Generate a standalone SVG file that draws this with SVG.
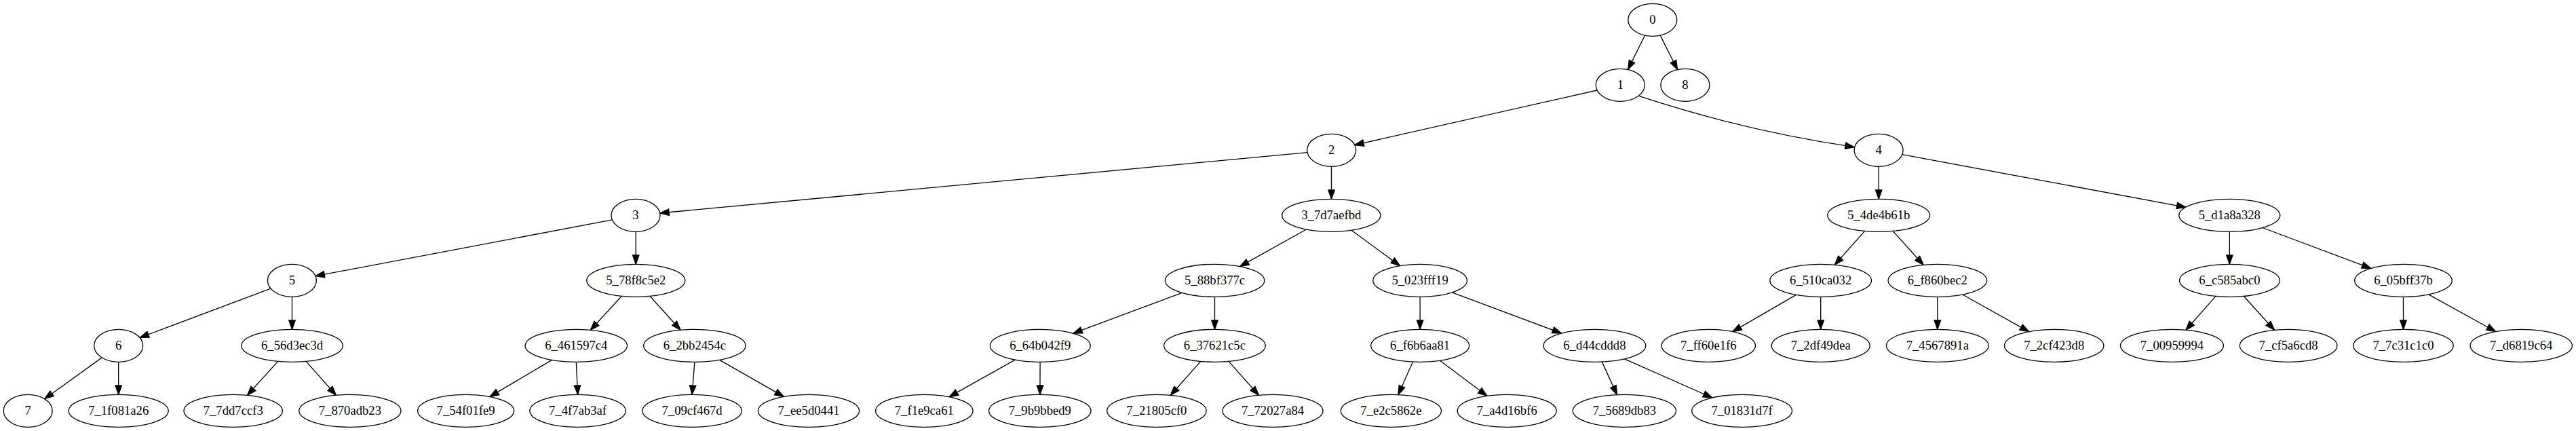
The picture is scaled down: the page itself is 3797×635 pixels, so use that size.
<svg xmlns="http://www.w3.org/2000/svg" width="3797" height="635" viewBox="0 0 3797 635">
<style>
.node ellipse{fill:#fff;stroke:#000;stroke-width:1.33}
.node text{font-family:"Liberation Serif","Times New Roman",serif;font-size:18.67px;text-anchor:middle;fill:#000}
.edges path{fill:none;stroke:#000;stroke-width:1.33;marker-end:url(#arr)}
</style>
<defs>
<marker id="arr" markerUnits="userSpaceOnUse" markerWidth="16" markerHeight="12" viewBox="0 -6 16 12" refX="13.33" refY="0" orient="auto" overflow="visible">
<path d="M0,-4.67 L13.33,0 L0,4.67 Z" fill="#000" stroke="#000" stroke-width="1.33"/>
</marker>
</defs>
<rect width="3797" height="635" fill="#fff"/>
<g class="edges" id="edges">
<path d="M2424.5,52.1 L2399.6,102.5"/>
<path d="M2447.2,52.1 L2472.5,102.5"/>
<path d="M2354.2,133.0 L1996.8,213.6"/>
<path d="M2416.3,141.7 Q2571.6,192.8 2733.3,216.7"/>
<path d="M1927.0,224.6 L972.7,314.0"/>
<path d="M1962.5,245.3 L1962.5,293.3"/>
<path d="M902.4,323.9 L465.0,406.7"/>
<path d="M937.2,341.3 L937.2,389.3"/>
<path d="M399.0,425.1 L206.1,497.5"/>
<path d="M430.5,437.3 L430.5,485.3"/>
<path d="M150.2,526.9 L65.7,587.7"/>
<path d="M174.7,533.3 L174.7,581.3"/>
<path d="M409.7,532.4 L364.5,582.3"/>
<path d="M451.1,532.4 L495.4,582.2"/>
<path d="M1925.4,338.0 L1827.6,392.6"/>
<path d="M1992.1,339.2 L2063.5,391.6"/>
<path d="M916.3,436.3 L870.4,486.3"/>
<path d="M958.0,436.3 L1003.1,486.2"/>
<path d="M813.5,530.4 L721.9,584.5"/>
<path d="M849.3,533.3 L851.6,581.3"/>
<path d="M1023.9,533.3 L1020.1,581.3"/>
<path d="M1060.6,530.3 L1155.4,584.4"/>
<path d="M1742.3,431.3 L1581.8,491.2"/>
<path d="M1790.5,437.3 L1790.5,485.3"/>
<path d="M1496.3,530.1 L1399.0,584.7"/>
<path d="M1533.1,533.3 L1533.0,581.3"/>
<path d="M1769.9,532.4 L1725.4,582.3"/>
<path d="M1811.0,532.4 L1855.4,582.2"/>
<path d="M2093.1,437.3 L2093.1,485.3"/>
<path d="M2140.3,430.9 L2301.5,491.0"/>
<path d="M2082.5,533.0 L2061.0,581.5"/>
<path d="M2122.4,531.3 L2191.9,583.3"/>
<path d="M2361.3,533.1 L2383.5,581.6"/>
<path d="M2394.5,528.8 L2523.8,586.0"/>
<path d="M2769.2,245.3 L2769.2,293.3"/>
<path d="M2803.8,227.7 L3221.8,305.3"/>
<path d="M2748.6,340.4 L2704.3,390.2"/>
<path d="M2790.0,340.4 L2835.1,390.3"/>
<path d="M2647.5,434.3 L2553.8,488.7"/>
<path d="M2683.7,437.3 L2683.7,485.3"/>
<path d="M2855.8,437.3 L2855.8,485.3"/>
<path d="M2892.8,434.0 L2990.6,488.6"/>
<path d="M3286.35,341.3 L3286.35,389.3"/>
<path d="M3334.9,335.5 L3494.7,395.4"/>
<path d="M3266.0,436.4 L3221.9,486.2"/>
<path d="M3307.2,436.3 L3352.4,486.3"/>
<path d="M3542.5,437.3 L3542.5,485.3"/>
<path d="M3579.7,433.8 L3678.6,488.5"/>
</g>
<g id="n0" class="node"><ellipse cx="2435.8" cy="29.3" rx="36" ry="24"/><text x="2435.8" y="35.3">0</text></g>
<g id="n1" class="node"><ellipse cx="2388.3" cy="125.3" rx="36" ry="24"/><text x="2388.3" y="131.3">1</text></g>
<g id="n8" class="node"><ellipse cx="2483.9" cy="125.3" rx="36" ry="24"/><text x="2483.9" y="131.3">8</text></g>
<g id="n2" class="node"><ellipse cx="1962.7" cy="221.3" rx="36" ry="24"/><text x="1962.7" y="227.3">2</text></g>
<g id="n4" class="node"><ellipse cx="2769.1" cy="221.3" rx="36" ry="24"/><text x="2769.1" y="227.3">4</text></g>
<g id="n3" class="node"><ellipse cx="937" cy="317.3" rx="36" ry="24"/><text x="937" y="323.3">3</text></g>
<g id="n3_7d7aefbd" class="node"><ellipse cx="1962.3" cy="317.3" rx="72.6" ry="24"/><text x="1962.3" y="323.3">3_7d7aefbd</text></g>
<g id="n5_4de4b61b" class="node"><ellipse cx="2769.2" cy="317.3" rx="75.4" ry="24"/><text x="2769.2" y="323.3">5_4de4b61b</text></g>
<g id="n5_d1a8a328" class="node"><ellipse cx="3286.3" cy="317.3" rx="74.5" ry="24"/><text x="3286.3" y="323.3">5_d1a8a328</text></g>
<g id="n5" class="node"><ellipse cx="430.4" cy="413.3" rx="36" ry="24"/><text x="430.4" y="419.3">5</text></g>
<g id="n5_78f8c5e2" class="node"><ellipse cx="937.3" cy="413.3" rx="72.5" ry="24"/><text x="937.3" y="419.3">5_78f8c5e2</text></g>
<g id="n5_88bf377c" class="node"><ellipse cx="1790.6" cy="413.3" rx="73.2" ry="24"/><text x="1790.6" y="419.3">5_88bf377c</text></g>
<g id="n5_023fff19" class="node"><ellipse cx="2093.1" cy="413.3" rx="69.4" ry="24"/><text x="2093.1" y="419.3">5_023fff19</text></g>
<g id="n6_510ca032" class="node"><ellipse cx="2683.7" cy="413.3" rx="74.8" ry="24"/><text x="2683.7" y="419.3">6_510ca032</text></g>
<g id="n6_f860bec2" class="node"><ellipse cx="2855.8" cy="413.3" rx="72.8" ry="24"/><text x="2855.8" y="419.3">6_f860bec2</text></g>
<g id="n6_c585abc0" class="node"><ellipse cx="3286.4" cy="413.3" rx="73.9" ry="24"/><text x="3286.4" y="419.3">6_c585abc0</text></g>
<g id="n6_05bff37b" class="node"><ellipse cx="3542.5" cy="413.3" rx="71.8" ry="24"/><text x="3542.5" y="419.3">6_05bff37b</text></g>
<g id="n6" class="node"><ellipse cx="174.7" cy="509.3" rx="36" ry="24"/><text x="174.7" y="515.3">6</text></g>
<g id="n6_56d3ec3d" class="node"><ellipse cx="430.6" cy="509.3" rx="74.7" ry="24"/><text x="430.6" y="515.3">6_56d3ec3d</text></g>
<g id="n6_461597c4" class="node"><ellipse cx="849.3" cy="509.3" rx="75.2" ry="24"/><text x="849.3" y="515.3">6_461597c4</text></g>
<g id="n6_2bb2454c" class="node"><ellipse cx="1023.9" cy="509.3" rx="75.2" ry="24"/><text x="1023.9" y="515.3">6_2bb2454c</text></g>
<g id="n6_64b042f9" class="node"><ellipse cx="1533.3" cy="509.3" rx="73.9" ry="24"/><text x="1533.3" y="515.3">6_64b042f9</text></g>
<g id="n6_37621c5c" class="node"><ellipse cx="1790.4" cy="509.3" rx="74.8" ry="24"/><text x="1790.4" y="515.3">6_37621c5c</text></g>
<g id="n6_f6b6aa81" class="node"><ellipse cx="2093.1" cy="509.3" rx="72.5" ry="24"/><text x="2093.1" y="515.3">6_f6b6aa81</text></g>
<g id="n6_d44cddd8" class="node"><ellipse cx="2350.4" cy="509.3" rx="75.4" ry="24"/><text x="2350.4" y="515.3">6_d44cddd8</text></g>
<g id="n7_ff60e1f6" class="node"><ellipse cx="2518.3" cy="509.3" rx="69.2" ry="24"/><text x="2518.3" y="515.3">7_ff60e1f6</text></g>
<g id="n7_2df49dea" class="node"><ellipse cx="2683.7" cy="509.3" rx="72.5" ry="24"/><text x="2683.7" y="515.3">7_2df49dea</text></g>
<g id="n7_4567891a" class="node"><ellipse cx="2855.8" cy="509.3" rx="75.4" ry="24"/><text x="2855.8" y="515.3">7_4567891a</text></g>
<g id="n7_2cf423d8" class="node"><ellipse cx="3027.7" cy="509.3" rx="73.2" ry="24"/><text x="3027.7" y="515.3">7_2cf423d8</text></g>
<g id="n7_00959994" class="node"><ellipse cx="3201.4" cy="509.3" rx="76" ry="24"/><text x="3201.4" y="515.3">7_00959994</text></g>
<g id="n7_cf5a6cd8" class="node"><ellipse cx="3373.1" cy="509.3" rx="71.8" ry="24"/><text x="3373.1" y="515.3">7_cf5a6cd8</text></g>
<g id="n7_7c31c1c0" class="node"><ellipse cx="3542.5" cy="509.3" rx="73.7" ry="24"/><text x="3542.5" y="515.3">7_7c31c1c0</text></g>
<g id="n7_d6819c64" class="node"><ellipse cx="3716.2" cy="509.3" rx="75.2" ry="24"/><text x="3716.2" y="515.3">7_d6819c64</text></g>
<g id="n7" class="node"><ellipse cx="41.2" cy="605.3" rx="36" ry="24"/><text x="41.2" y="611.3">7</text></g>
<g id="n7_1f081a26" class="node"><ellipse cx="174.7" cy="605.3" rx="73.5" ry="24"/><text x="174.7" y="611.3">7_1f081a26</text></g>
<g id="n7_7dd7ccf3" class="node"><ellipse cx="343.7" cy="605.3" rx="72.7" ry="24"/><text x="343.7" y="611.3">7_7dd7ccf3</text></g>
<g id="n7_870adb23" class="node"><ellipse cx="515.9" cy="605.3" rx="75.1" ry="24"/><text x="515.9" y="611.3">7_870adb23</text></g>
<g id="n7_54f01fe9" class="node"><ellipse cx="686.6" cy="605.3" rx="71" ry="24"/><text x="686.6" y="611.3">7_54f01fe9</text></g>
<g id="n7_4f7ab3af" class="node"><ellipse cx="851.6" cy="605.3" rx="70.7" ry="24"/><text x="851.6" y="611.3">7_4f7ab3af</text></g>
<g id="n7_09cf467d" class="node"><ellipse cx="1020.1" cy="605.3" rx="73.2" ry="24"/><text x="1020.1" y="611.3">7_09cf467d</text></g>
<g id="n7_ee5d0441" class="node"><ellipse cx="1192" cy="605.3" rx="74.6" ry="24"/><text x="1192" y="611.3">7_ee5d0441</text></g>
<g id="n7_f1e9ca61" class="node"><ellipse cx="1362.3" cy="605.3" rx="71.7" ry="24"/><text x="1362.3" y="611.3">7_f1e9ca61</text></g>
<g id="n7_9b9bbed9" class="node"><ellipse cx="1532.8" cy="605.3" rx="75.2" ry="24"/><text x="1532.8" y="611.3">7_9b9bbed9</text></g>
<g id="n7_21805cf0" class="node"><ellipse cx="1704.9" cy="605.3" rx="73.2" ry="24"/><text x="1704.9" y="611.3">7_21805cf0</text></g>
<g id="n7_72027a84" class="node"><ellipse cx="1876" cy="605.3" rx="74" ry="24"/><text x="1876" y="611.3">7_72027a84</text></g>
<g id="n7_e2c5862e" class="node"><ellipse cx="2050.4" cy="605.3" rx="74.1" ry="24"/><text x="2050.4" y="611.3">7_e2c5862e</text></g>
<g id="n7_a4d16bf6" class="node"><ellipse cx="2221.2" cy="605.3" rx="73" ry="24"/><text x="2221.2" y="611.3">7_a4d16bf6</text></g>
<g id="n7_5689db83" class="node"><ellipse cx="2394.4" cy="605.3" rx="76.1" ry="24"/><text x="2394.4" y="611.3">7_5689db83</text></g>
<g id="n7_01831d7f" class="node"><ellipse cx="2567.6" cy="605.3" rx="73.9" ry="24"/><text x="2567.6" y="611.3">7_01831d7f</text></g>
</svg>
